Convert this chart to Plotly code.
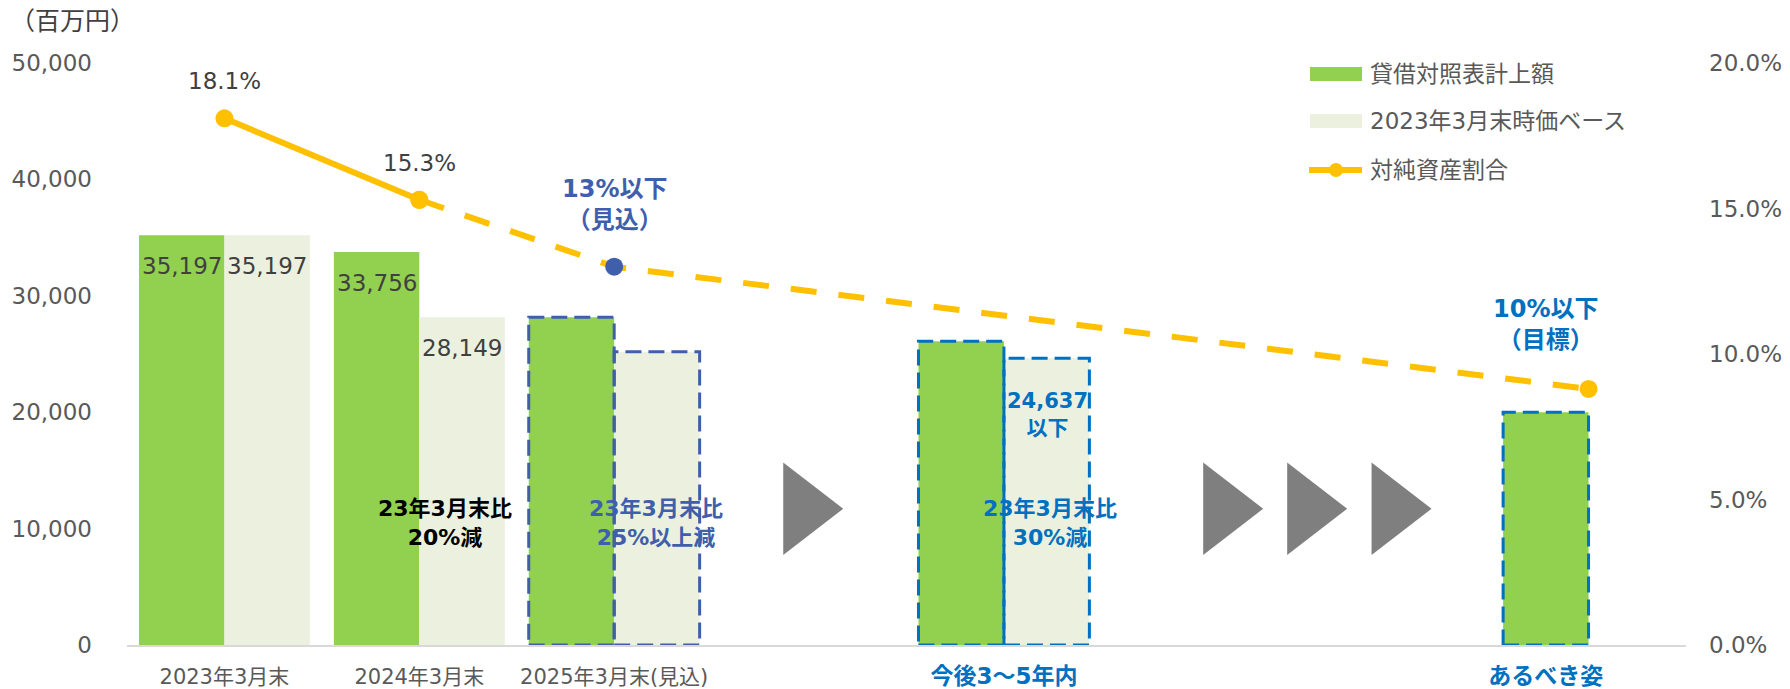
import plotly.graph_objects as go

# ---- data -------------------------------------------------------------
categories = ["2023年3月末", "2024年3月末", "2025年3月末(見込)", "", "今後3～5年内", "", "", "あるべき姿"]
book_value = [35197, 33756, 28150, None, 26100, None, None, 20000]      # 貸借対照表計上額
market_base = [35197, 28149, 25200, None, 24637, None, None, None]     # 2023年3月末時価ベース
net_asset_ratio = [18.1, 15.3, 13.0, None, None, None, None, 8.8]      # 対純資産割合 (%)
labelled_bars = [0, 1]
left_ticks = [0, 10000, 20000, 30000, 40000, 50000]
right_ticks = [0, 5, 10, 15, 20]

# ---- style ------------------------------------------------------------
FONT = "DejaVu Sans, Noto Sans CJK JP, sans-serif"
GREEN = "#92D050"
LIGHT = "#EBF1DE"
YELLOW = "#FFC000"
NAVY = "#3F5FAD"
BLUE = "#0070C0"
GREY_TXT = "#595959"
DARK_TXT = "#404040"
ARROW = "#7F7F7F"

W, H = 1790, 689
L, R, T, B = 127, 104, 63, 44
PW, PH = W - L - R, H - T - B

BARGAP = 0.123
BAR_W = (1 - BARGAP) / 2
OFF = BAR_W / 2

x = list(range(len(categories)))

fig = go.Figure()

fig.add_trace(go.Bar(x=x, y=book_value, name="貸借対照表計上額", marker=dict(color=GREEN, line=dict(width=0)),
                     hoverinfo="skip", showlegend=False))
fig.add_trace(go.Bar(x=x, y=market_base, name="2023年3月末時価ベース", marker=dict(color=LIGHT, line=dict(width=0)),
                     hoverinfo="skip", showlegend=False))

# progression arrows between periods
arrow_x = [2.97, 5.125, 5.556, 5.989]
arrow_y = [11700] * len(arrow_x)
fig.add_trace(go.Scatter(x=arrow_x, y=arrow_y, mode="markers",
                         marker=dict(symbol="triangle-right", size=80, color=ARROW, line=dict(width=0)),
                         hoverinfo="skip", showlegend=False))

# ratio line: solid for actuals, dashed for outlook
ratio_pts = [(i, v) for i, v in zip(x, net_asset_ratio) if v is not None]
dash_pts = ratio_pts[1:]
fig.add_trace(go.Scatter(x=[p[0] for p in dash_pts], y=[p[1] for p in dash_pts], yaxis="y2",
                         mode="lines+markers",
                         line=dict(color=YELLOW, width=6, dash="26px,22px"),
                         marker=dict(size=18, color=[YELLOW, NAVY, YELLOW]),
                         hoverinfo="skip", showlegend=False))
solid_pts = ratio_pts[:2]
fig.add_trace(go.Scatter(x=[p[0] for p in solid_pts], y=[p[1] for p in solid_pts], yaxis="y2",
                         mode="lines+markers",
                         line=dict(color=YELLOW, width=6),
                         marker=dict(size=18, color=YELLOW),
                         hoverinfo="skip", showlegend=False))

shapes = []
annotations = []

# dashed outlines for projected / target bars
outline_colors = {2: NAVY, 4: BLUE, 7: BLUE}
for i, col in outline_colors.items():
    for off, series in ((-OFF, book_value), (OFF, market_base)):
        v = series[i]
        if v is None:
            continue
        shapes.append(dict(type="rect", xref="x", yref="y",
                           x0=i + off - BAR_W / 2, x1=i + off + BAR_W / 2, y0=0, y1=v,
                           line=dict(color=col, width=3, dash="16px,7px"), fillcolor="rgba(0,0,0,0)",
                           layer="above"))

# bar value labels
for i in labelled_bars:
    for off, series in ((-OFF, book_value), (OFF, market_base)):
        v = series[i]
        annotations.append(dict(x=i + off, y=v, xref="x", yref="y", text=f"{v:,}", showarrow=False,
                                yanchor="middle", yshift=-31,
                                font=dict(family=FONT, size=23, color=DARK_TXT)))

# ratio labels for actuals
for i, v in ratio_pts[:2]:
    annotations.append(dict(x=i, y=v, xref="x", yref="y2", text=f"{v:.1f}%", showarrow=False,
                            yanchor="middle", yshift=37,
                            font=dict(family=FONT, size=23, color=DARK_TXT)))

# outlook / target ratio notes
annotations.append(dict(x=2, y=net_asset_ratio[2], xref="x", yref="y2",
                        text=f"<b>{net_asset_ratio[2]:.0f}%以下<br>（見込）</b>", showarrow=False,
                        yanchor="middle", yshift=62,
                        font=dict(family=FONT, size=24, color=NAVY)))
annotations.append(dict(x=7 - OFF, y=net_asset_ratio[7], xref="x", yref="y2",
                        text="<b>10%以下<br>（目標）</b>", showarrow=False,
                        yanchor="middle", yshift=64,
                        font=dict(family=FONT, size=24, color=BLUE)))

# reduction notes
annotations.append(dict(x=4.225, y=19760, xref="x", yref="y",
                        text=f"<b>{market_base[4]:,}<br>以下</b>", showarrow=False,
                        font=dict(family=FONT, size=21, color=BLUE)))
for xc, txt, col in ((1.13, "23年3月末比<br>20%減", "#000000"),
                     (2.215, "23年3月末比<br>25%以上減", NAVY),
                     (4.236, "23年3月末比<br>30%減", BLUE)):
    annotations.append(dict(x=xc, y=10500, xref="x", yref="y", text=f"<b>{txt}</b>", showarrow=False,
                            font=dict(family=FONT, size=22, color=col)))

# unit label
annotations.append(dict(x=0, y=1, xref="paper", yref="paper", xanchor="left", yanchor="middle",
                        xshift=-119, yshift=42, text="（百万円）", showarrow=False,
                        font=dict(family=FONT, size=25, color=DARK_TXT)))


# ---- legend (drawn manually, pixel placement) ---------------------------
def px(p):
    return (p - L) / PW


def py(p):
    return (H - B - p) / PH


legend_items = ["貸借対照表計上額", "2023年3月末時価ベース", "対純資産割合"]
legend_y = [74, 121, 170]
for name, yc, col in zip(legend_items[:2], legend_y[:2], (GREEN, LIGHT)):
    shapes.append(dict(type="rect", xref="paper", yref="paper",
                       x0=px(1310), x1=px(1362), y0=py(yc - 7), y1=py(yc + 7),
                       fillcolor=col, line=dict(width=0)))
yc = legend_y[2]
shapes.append(dict(type="line", xref="paper", yref="paper", x0=px(1309), x1=px(1362), y0=py(yc), y1=py(yc),
                   line=dict(color=YELLOW, width=6)))
shapes.append(dict(type="circle", xref="paper", yref="paper", x0=px(1329), x1=px(1343),
                   y0=py(yc + 7), y1=py(yc - 7), fillcolor=YELLOW, line=dict(width=0)))
for name, yc in zip(legend_items, legend_y):
    annotations.append(dict(x=px(1368), y=py(yc), xref="paper", yref="paper", xanchor="left",
                            yanchor="middle", text=name, showarrow=False,
                            font=dict(family=FONT, size=23, color=GREY_TXT)))

# ---- axes ---------------------------------------------------------------
tick_vals = [0, 1, 2, 4, 7 - OFF]
tick_text = []
for i in (0, 1, 2, 4, 7):
    c = categories[i]
    if i >= 4:
        c = f"<b><span style='color:{BLUE};font-size:23px'>{c}</span></b>"
    tick_text.append(c)

fig.update_layout(
    width=W, height=H,
    margin=dict(l=L, r=R, t=T, b=B),
    paper_bgcolor="white", plot_bgcolor="white",
    barmode="group", bargap=BARGAP, bargroupgap=0,
    font=dict(family=FONT, color=GREY_TXT),
    showlegend=False,
    xaxis=dict(range=[-0.5, 7.5], tickvals=tick_vals, ticktext=tick_text, showgrid=False, zeroline=False,
               showline=True, linecolor="#D9D9D9", linewidth=2, ticks="", automargin=False,
               tickfont=dict(family=FONT, size=21, color=GREY_TXT), ticklabelstandoff=12),
    yaxis=dict(range=[0, 50000], tickvals=left_ticks, ticktext=[f"{v:,}" for v in left_ticks],
               showgrid=False, zeroline=False, showline=False, ticks="", automargin=False,
               tickfont=dict(family=FONT, size=23, color=GREY_TXT), ticklabelstandoff=34),
    yaxis2=dict(range=[0, 20], overlaying="y", side="right", tickvals=right_ticks,
                ticktext=[f"{v:.1f}%" for v in right_ticks], showgrid=False, zeroline=False,
                showline=False, ticks="", automargin=False,
                tickfont=dict(family=FONT, size=23, color=GREY_TXT), ticklabelstandoff=22),
    shapes=shapes,
    annotations=annotations,
)

fig.write_html("out.html")
